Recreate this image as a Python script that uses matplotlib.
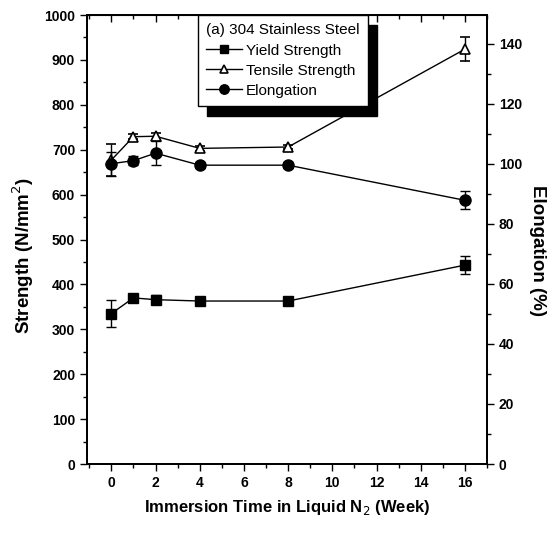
import numpy as np
import matplotlib
matplotlib.use("Agg")
import matplotlib.pyplot as plt
from matplotlib.ticker import MultipleLocator
from matplotlib.lines import Line2D

plt.rcParams['font.family'] = ['Liberation Sans', 'DejaVu Sans']

weeks = [0, 1, 2, 4, 8, 16]
yield_str = [335, 370, 366, 363, 363, 443]
yield_err = [30, 5, 10, 5, 5, 20]
tensile_str = [677, 729, 730, 703, 706, 924]
tensile_err = [35, 6, 8, 5, 5, 27]
elong = [100, 101, 103.5, 99.5, 99.5, 87.8]
elong_err = [4, 1.5, 4, 1, 1, 3]

fig = plt.figure(figsize=(5.56, 5.36), dpi=100)
ax = fig.add_axes([0.1565, 0.1343, 0.7195, 0.8377])
ax2 = ax.twinx()

common = dict(color='black', lw=1, capsize=3.5, capthick=1, elinewidth=1)
sq = dict(marker='s', ms=7, mfc='black', mec='black')
tri = dict(marker='^', ms=7, mfc='white', mec='black', mew=1.2)
circ = dict(marker='o', ms=8, mfc='black', mec='black')
ax.errorbar(weeks, yield_str, yerr=yield_err, **sq, **common)
ax.errorbar(weeks, tensile_str, yerr=tensile_err, **tri, **common)
ax2.errorbar(weeks, elong, yerr=elong_err, **circ, **common)

ax.set_xlim(-1.1, 17)
ax.set_ylim(0, 1000)
ax2.set_ylim(0, 149.5)

ax.xaxis.set_major_locator(MultipleLocator(2))
ax.xaxis.set_minor_locator(MultipleLocator(1))
ax.yaxis.set_major_locator(MultipleLocator(100))
ax.yaxis.set_minor_locator(MultipleLocator(50))
ax2.yaxis.set_major_locator(MultipleLocator(20))
ax2.yaxis.set_minor_locator(MultipleLocator(10))

for a in (ax, ax2):
    a.tick_params(which='major', direction='out', length=5, width=1, labelsize=10)
    a.tick_params(which='minor', direction='out', length=3, width=1)
    for s in a.spines.values():
        s.set_linewidth(1.3)
for lab in ax.get_xticklabels() + ax.get_yticklabels() + ax2.get_yticklabels():
    lab.set_fontweight('bold')

top = ax.secondary_xaxis('top')
top.xaxis.set_major_locator(MultipleLocator(2))
top.xaxis.set_minor_locator(MultipleLocator(1))
top.tick_params(which='major', direction='in', length=5, width=1, labeltop=False)
top.tick_params(which='minor', direction='in', length=3, width=1)

ax.set_xlabel('Immersion Time in Liquid N$_2$ (Week)', fontsize=12, fontweight='bold', labelpad=6)
ax.set_ylabel('Strength (N/mm$^2$)', fontsize=13.5, fontweight='bold', labelpad=6)
ax2.set_ylabel('Elongation (%)', fontsize=13.5, fontweight='bold', rotation=270, labelpad=17)
ax.yaxis.label.set_y(0.465)
ax2.yaxis.label.set_y(0.475)

handles = [Line2D([], [], color='black', lw=1, **sq),
           Line2D([], [], color='black', lw=1, **tri),
           Line2D([], [], color='black', lw=1, **circ)]
leg = ax.legend(handles, ['Yield Strength', 'Tensile Strength', 'Elongation'],
                title='(a) 304 Stainless Steel', loc='upper left', bbox_to_anchor=(0.2775, 1.0),
                borderaxespad=0, fontsize=11, title_fontsize=11, fancybox=False,
                edgecolor='black', framealpha=1, handlelength=2.3, handletextpad=0.3,
                labelspacing=0.4, borderpad=0.55, alignment='left', markerscale=0.85,
                shadow={'ox': 6.5, 'oy': -7, 'color': 'black', 'alpha': 1})
leg.get_frame().set_linewidth(1)
leg.set_zorder(10)

fig.savefig('out.png', dpi=100)
